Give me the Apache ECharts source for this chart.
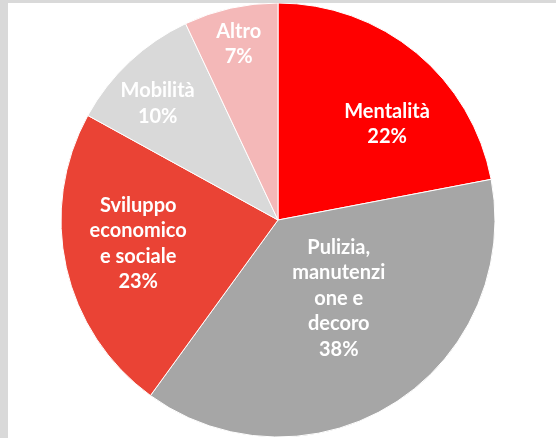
<!DOCTYPE html>
<html>
<head>
<meta charset="utf-8">
<script src="https://cdn.jsdelivr.net/npm/echarts@6/dist/echarts.min.js"></script>
<style>
  html, body { margin: 0; padding: 0; width: 556px; height: 438px; background: #D9D9D9; overflow: hidden; }
  #chart { position: absolute; left: 8px; top: 3px; width: 548px; height: 435px; background: #FFFFFF; }
</style>
</head>
<body>
<div id="chart"></div>
<script>
// Data
const categories = ["Mentalità", "Pulizia,\nmanutenzi\none e\ndecoro", "Sviluppo\neconomico\ne sociale", "Mobilità", "Altro"];
const values = [22, 38, 23, 10, 7];
const colors = ["#FF0000", "#A6A6A6", "#EA4335", "#D9D9D9", "#F4B8B8"];
// label nudges (px) relative to ECharts' default inside position
const labelDx = [38, 1, -31, -44, -15];
const labelDy = [-10, -16, -1, -35, -67];

const chart = echarts.init(document.getElementById('chart'), null, { renderer: 'canvas' });
const option = {
  animation: false,
  backgroundColor: '#FFFFFF',
  series: [{
    type: 'pie',
    center: [270, 217],
    radius: [0, 217],
    startAngle: 90,
    clockwise: true,
    avoidLabelOverlap: false,
    label: {
      show: true,
      position: 'inside',
      color: '#FFFFFF',
      fontFamily: 'Lato',
      fontWeight: 'bold',
      fontSize: 20,
      lineHeight: 25.5,
      align: 'center',
      formatter: p => p.name + '\n' + p.value + '%'
    },
    labelLine: { show: false },
    labelLayout: p => ({ dx: labelDx[p.dataIndex], dy: labelDy[p.dataIndex] }),
    itemStyle: { borderColor: '#FFFFFF', borderWidth: 1 },
    emphasis: { disabled: true },
    data: categories.map((c, i) => ({ name: c, value: values[i], itemStyle: { color: colors[i] } }))
  }]
};
chart.setOption(option);
</script>
</body>
</html>
